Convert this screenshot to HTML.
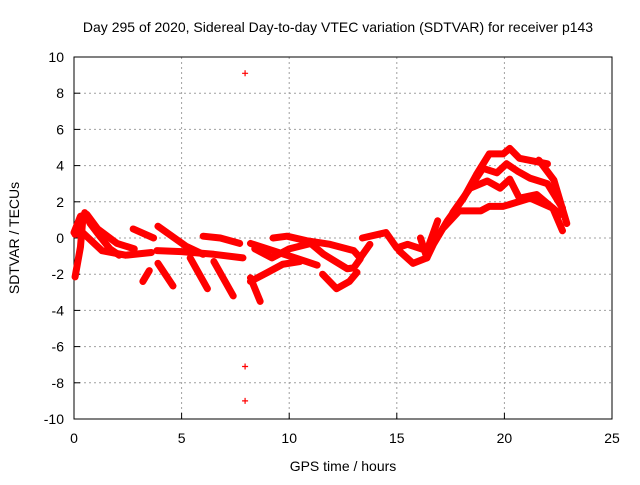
<!DOCTYPE html>
<html><head><meta charset="utf-8"><style>
body{margin:0;background:#fff}
svg text{font-family:"Liberation Sans",sans-serif;font-size:14px;fill:#000}
</style></head><body>
<svg id="chart" width="640" height="480" viewBox="0 0 640 480">
<rect width="640" height="480" fill="#fff"/>
<text x="338" y="32" text-anchor="middle">Day 295 of 2020, Sidereal Day-to-day VTEC variation (SDTVAR) for receiver p143</text>
<g id="grid"></g>
<g id="axes"></g>
<g id="marks"></g>
<text x="343" y="471" text-anchor="middle">GPS time / hours</text>
<text x="0" y="0" text-anchor="middle" transform="translate(19,238) rotate(-90)">SDTVAR / TECUs</text>
</svg>
<script>
const xTicks=[0,5,10,15,20,25];
const yTicks=[-10,-8,-6,-4,-2,0,2,4,6,8,10];
const tracks=[
[[0.05,-2.15],[0.3,-0.5],[0.4,0.9],[0.5,1.4],[0.75,0.8],[1.2,0.1],[1.67,-0.6],[2.1,-0.95]],
[[0,0.3],[0.3,1.2],[0.6,1.3],[1.1,0.5],[2,-0.3],[2.8,-0.6]],
[[0.05,0.2],[0.4,0.3],[1.3,-0.7],[2.4,-0.95],[3.6,-0.8]],
[[2.75,0.5],[3.7,0]],
[[3.9,0.65],[5.2,-0.45],[6,-0.9]],
[[3.85,-0.7],[5,-0.75],[6.5,-0.9],[7.85,-1.1]],
[[6,0.1],[6.8,0],[7.7,-0.3]],
[[3.5,-1.8],[3.2,-2.4]],
[[3.9,-1.4],[4.6,-2.65]],
[[5.4,-1.1],[6.2,-2.8]],
[[6.5,-1.3],[7.4,-3.2]],
[[8.2,-2.2],[8.65,-3.5]],
[[8.2,-0.3],[9.25,-0.7],[10.8,-1.3],[11.3,-1.5]],
[[9.25,0],[9.9,0.1],[10.8,-0.15],[11.9,-0.35],[13,-0.7],[13.3,-1.1],[13.75,-0.35]],
[[8.4,-0.6],[9.2,-1.1],[10,-0.6],[11,-0.3],[11.6,-0.9],[12.7,-1.7],[13,-1.65],[13.3,-1.15]],
[[11.55,-2],[12.2,-2.8],[12.8,-2.4],[13.15,-1.9]],
[[8.2,-2.4],[9,-1.9],[9.7,-1.45],[10.5,-1.3]],
[[13.4,0],[14.5,0.3],[15,-0.55],[15.5,-0.35],[16.4,-0.7],[16.9,0.95]],
[[15.1,-0.7],[15.75,-1.4],[16.4,-1.1]],
[[16.1,0],[16.4,-1.1],[16.7,-0.35],[17.35,0.95],[18.1,2.2],[18.7,3.5],[19.3,4.65],[19.95,4.65],[20.25,4.95],[20.7,4.4],[22,4.1]],
[[21.6,4.3],[22.3,3.2],[22.9,0.8]],
[[17.2,0.6],[17.9,1.5],[18.9,1.5],[19.3,1.75],[19.95,1.75],[21.2,2.2],[22.25,1.65],[22.7,0.4]],
[[17.6,1.4],[18.4,2.75],[19.2,3.15],[19.8,2.75],[20.25,3.25],[20.7,2.2],[21.5,2.4],[22.6,1.3]],
[[18.3,2.6],[19,3.85],[19.65,3.6],[20.1,4.1],[20.6,3.7],[21.2,3.3],[22,3],[22.7,1.65]]
];
const outliers=[[7.95,9.1],[7.95,-7.1],[7.95,-9]];
const X0=74,X1=612,Y0=419,Y1=57;
const sx=v=>X0+(v-0)/25*(X1-X0);
const sy=v=>Y0-(v+10)/20*(Y0-Y1);
const NS="http://www.w3.org/2000/svg";
function mk(t,a,p){const e=document.createElementNS(NS,t);for(const k in a)e.setAttribute(k,a[k]);p.appendChild(e);return e;}
const grid=document.getElementById('grid'),axes=document.getElementById('axes'),marks=document.getElementById('marks');
xTicks.forEach(t=>{
 if(t>0&&t<25){const l=mk('line',{x1:sx(t),x2:sx(t),y1:Y1,y2:Y0,stroke:'#a0a0a0','stroke-dasharray':'2,3','stroke-width':1},grid);
 }
 const tk=mk('line',{x1:sx(t),x2:sx(t),y1:Y0,y2:Y0-6,stroke:'#000'},axes);
 
 const tx=mk('text',{x:sx(t),y:Y0+24,'text-anchor':'middle'},axes);tx.textContent=t;
 
});
yTicks.forEach(t=>{
 if(t>-10&&t<10){const l=mk('line',{x1:X0,x2:X1,y1:sy(t),y2:sy(t),stroke:'#a0a0a0','stroke-dasharray':'2,3','stroke-width':1},grid);
 }
 const tk=mk('line',{x1:X0,x2:X0+6,y1:sy(t),y2:sy(t),stroke:'#000'},axes);
 
 const tx=mk('text',{x:X0-10,y:sy(t)+5,'text-anchor':'end'},axes);tx.textContent=t;
 
});
const fr=mk('rect',{x:X0,y:Y1,width:X1-X0,height:Y0-Y1,fill:'none',stroke:'#000'},axes);

tracks.forEach(tr=>{
 const p=mk('polyline',{points:tr.map(d=>sx(d[0])+','+sy(d[1])).join(' '),fill:'none',stroke:'#f00','stroke-width':7,'stroke-linejoin':'round','stroke-linecap':'round'},marks);
 
});
outliers.forEach(d=>{
 const x=sx(d[0]),y=sy(d[1]);
 const p=mk('path',{d:`M${x-3},${y}H${x+3}M${x},${y-3}V${y+3}`,stroke:'#f00','stroke-width':1.2},marks);
 
});
</script>
</body></html>
